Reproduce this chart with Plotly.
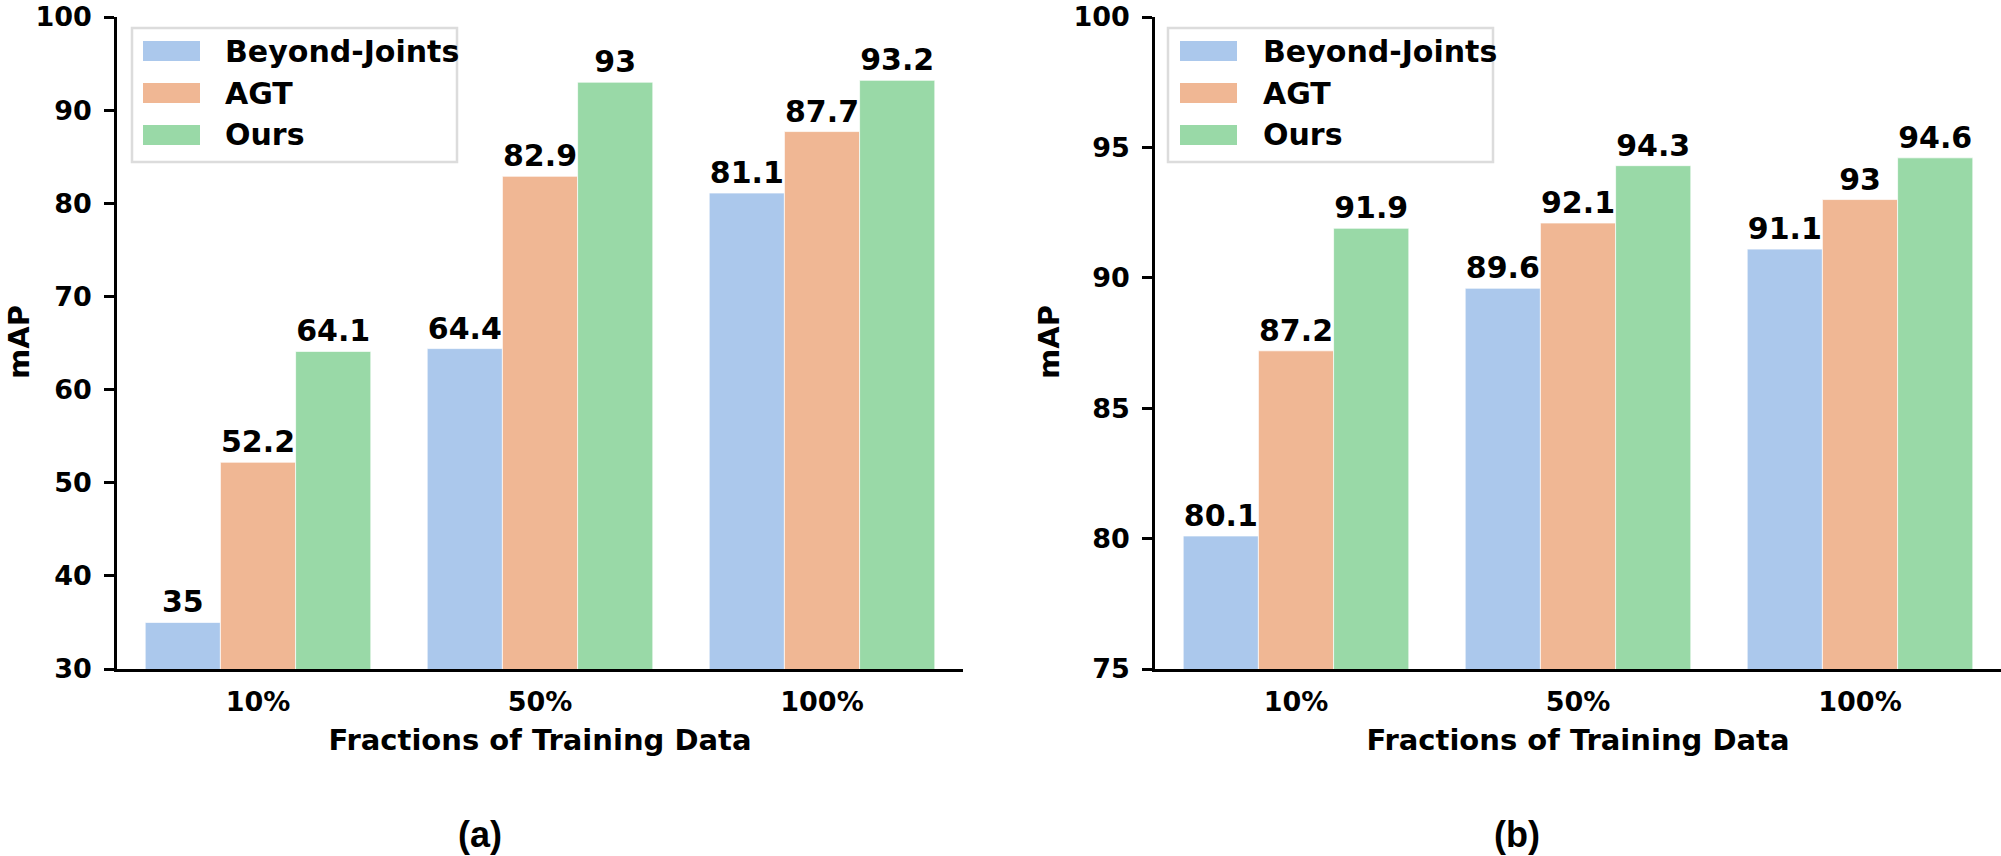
import plotly.graph_objects as go

# ---------------- data ----------------
categories = ["10%", "50%", "100%"]
series_names = ["Beyond-Joints", "AGT", "Ours"]
series_colors = ["#abc8ec", "#f0b794", "#99d9a7"]

a_beyond_joints = [35, 64.4, 81.1]
a_agt = [52.2, 82.9, 87.7]
a_ours = [64.1, 93, 93.2]

b_beyond_joints = [80.1, 89.6, 91.1]
b_agt = [87.2, 92.1, 93]
b_ours = [91.9, 94.3, 94.6]

yticks_a = [30, 40, 50, 60, 70, 80, 90, 100]
yticks_b = [75, 80, 85, 90, 95, 100]
panel_labels = ["(a)", "(b)"]
x_title = "Fractions of Training Data"
y_title = "mAP"

# ---------------- layout helpers ----------------
W, H = 2001, 856
ML, MR, MT, MB = 117, 0, 17, 187
PW = W - ML - MR
PH = H - MT - MB


def px(x):
    return (x - ML) / PW


def py(y):
    return (H - MB - y) / PH


FONT = "DejaVu Sans"


def bf(size):
    return dict(family=FONT, size=size, color="black", weight="bold")


fig = go.Figure()

panels = [
    ("x", "y", [a_beyond_joints, a_agt, a_ours]),
    ("x2", "y2", [b_beyond_joints, b_agt, b_ours]),
]
for xa, ya, series in panels:
    for name, color, vals in zip(series_names, series_colors, series):
        fig.add_trace(go.Bar(
            x=categories, y=vals, name=name,
            text=[f"{v:g}" for v in vals],
            textposition="outside", textfont=bf(30),
            constraintext="none", cliponaxis=False,
            marker=dict(color=color, line=dict(color="rgba(255,255,255,0.7)", width=1)),
            xaxis=xa, yaxis=ya, showlegend=False,
        ))

dom1 = [0, (963 - ML) / PW]
dom2 = [(1155 - ML) / PW, 1.0]

common_x = dict(range=[-0.5, 2.5], showline=True, linecolor="black", linewidth=2.5,
                ticks="", tickfont=bf(27), showgrid=False, zeroline=False,
                ticklabelstandoff=7,
                title=dict(text=x_title, font=bf(29), standoff=14))
common_y = dict(showline=True, linecolor="black", linewidth=2.5, ticks="outside",
                ticklen=10, tickwidth=2.5, tickcolor="black", tickfont=bf(27),
                showgrid=False, zeroline=False, ticklabelstandoff=7,
                ticklabeloverflow="allow")

fig.update_layout(
    width=W, height=H,
    margin=dict(l=ML, r=MR, t=MT, b=MB, autoexpand=False),
    plot_bgcolor="white", paper_bgcolor="white",
    barmode="group", bargap=0.2, bargroupgap=0,
    xaxis=dict(domain=dom1, anchor="y", **common_x),
    xaxis2=dict(domain=dom2, anchor="y2", **common_x),
    yaxis=dict(domain=[0, 1], anchor="x", range=[30, 100], tickvals=yticks_a, **common_y),
    yaxis2=dict(domain=[0, 1], anchor="x2", range=[75, 100], tickvals=yticks_b, **common_y),
    showlegend=False,
)

# ---------------- y-axis titles (rotated text) ----------------
for cx in [19, 1049]:
    fig.add_annotation(text=y_title, xref="paper", yref="paper",
                       x=px(cx), y=py(342), xanchor="center", yanchor="middle",
                       textangle=-90, showarrow=False, font=bf(29))

# ---------------- manual legends (one per panel) ----------------
legend_specs = [
    dict(box=(132, 457), sw=(143, 200), tx=223),
    dict(box=(1168, 1493), sw=(1180, 1237), tx=1261),
]
row_centers = [51, 93, 135]
for spec in legend_specs:
    bx0, bx1 = spec["box"]
    fig.add_shape(type="rect", xref="paper", yref="paper",
                  x0=px(bx0), x1=px(bx1), y0=py(162), y1=py(28),
                  line=dict(color="#dcdcdc", width=2.5), fillcolor="rgba(255,255,255,0.8)",
                  layer="above")
    for name, color, rc in zip(series_names, series_colors, row_centers):
        fig.add_shape(type="rect", xref="paper", yref="paper",
                      x0=px(spec["sw"][0]), x1=px(spec["sw"][1]),
                      y0=py(rc + 10), y1=py(rc - 10),
                      line=dict(width=0), fillcolor=color, layer="above")
        fig.add_annotation(text=name, xref="paper", yref="paper",
                           x=px(spec["tx"]), y=py(rc), xanchor="left", yanchor="middle",
                           showarrow=False, font=bf(30))

# ---------------- panel labels ----------------
for label, cx in zip(panel_labels, [480, 1517]):
    fig.add_annotation(text=label, xref="paper", yref="paper",
                       x=px(cx), y=py(834), xanchor="center", yanchor="middle",
                       showarrow=False,
                       font=dict(family="Liberation Sans", size=36, color="black", weight="bold"))

fig.write_html("out.html",
               config={"displayModeBar": False},
               post_script="document.body.style.margin='0px';document.body.style.overflow='hidden';")
